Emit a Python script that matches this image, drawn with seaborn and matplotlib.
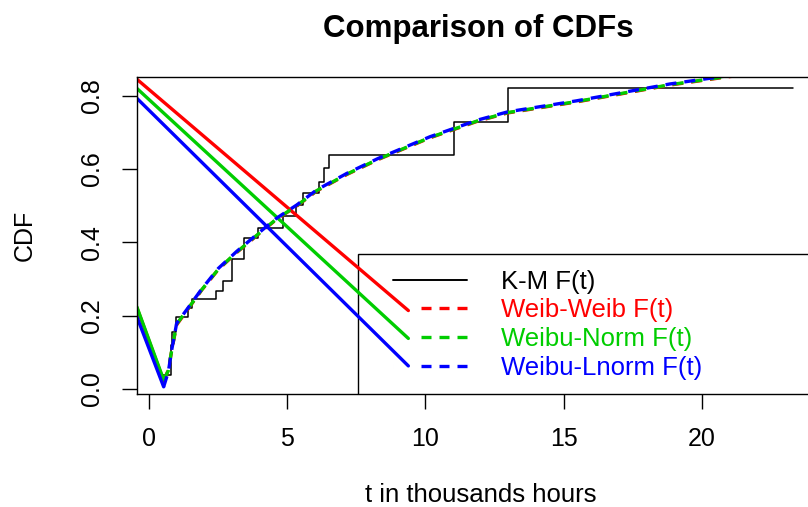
import numpy as np
import pandas as pd
import seaborn as sns
import matplotlib.pyplot as plt
from matplotlib.lines import Line2D
from matplotlib.patches import Rectangle

# --- data (t in thousands hours) ---
# Kaplan-Meier estimate: jump times and F(t) after each jump
km_t = [0.51, 0.77, 0.83, 0.96, 1.41, 1.54, 2.41, 2.66, 2.98, 3.44, 3.95,
        4.83, 5.31, 5.58, 6.16, 6.33, 6.52, 11.03, 12.98, 23.31]
km_F = [0.038, 0.120, 0.156, 0.197, 0.221, 0.245, 0.268, 0.295, 0.355, 0.411, 0.438,
        0.472, 0.502, 0.534, 0.565, 0.604, 0.638, 0.729, 0.820, 0.820]

# fitted CDFs (dashed), from the dip upwards
fit_t = [0.52, 0.69, 0.81, 0.99, 1.41, 1.90, 2.50, 3.16, 3.95, 4.61, 5.34,
         6.06, 7.15, 8.29, 10.16, 11.91, 12.98, 15.47, 18.85, 20.90, 23.90]
weib_weib = [0.022, 0.052, 0.104, 0.175, 0.219, 0.270, 0.326, 0.372, 0.422, 0.463, 0.499,
             0.540, 0.585, 0.626, 0.685, 0.731, 0.753, 0.783, 0.829, 0.851, 0.880]
weib_norm = [0.025, 0.050, 0.105, 0.177, 0.220, 0.271, 0.327, 0.373, 0.423, 0.464, 0.500,
             0.541, 0.586, 0.627, 0.686, 0.732, 0.754, 0.784, 0.830, 0.852, 0.881]
weib_lnorm = [0.006, 0.047, 0.106, 0.179, 0.222, 0.273, 0.329, 0.375, 0.425, 0.466, 0.502,
              0.543, 0.588, 0.629, 0.688, 0.734, 0.756, 0.786, 0.832, 0.854, 0.883]

# solid piece running into the dip
arm_t = [-0.45, 0.52]
arm_weib = [0.222, 0.022]
arm_norm = [0.224, 0.025]
arm_lnorm = [0.197, 0.006]

# solid straight lines from the top left down to the legend
diag_t = [-0.45, 9.38]
diag_weib = [0.845, 0.214]
diag_norm = [0.820, 0.138]
diag_lnorm = [0.793, 0.063]

labels = ['K-M F(t)', 'Weib-Weib F(t)', 'Weibu-Norm F(t)', 'Weibu-Lnorm F(t)']
colors = ['black', '#FF0000', '#00CD00', '#0000FF']

sns.set_theme(style='ticks')
plt.rcParams['font.family'] = ['Liberation Sans', 'DejaVu Sans']
plt.rcParams['text.color'] = 'black'
plt.rcParams['axes.labelcolor'] = 'black'
plt.rcParams['xtick.color'] = 'black'
plt.rcParams['ytick.color'] = 'black'

fig = plt.figure(figsize=(8.08, 5.07), dpi=100)
ax = fig.add_axes([137 / 808, 113 / 507, 671 / 808, 317 / 507])

km = pd.DataFrame({'t': km_t, 'F': km_F})
sns.lineplot(data=km, x='t', y='F', color='black', lw=1.1, drawstyle='steps-post',
             estimator=None, sort=False, ax=ax, legend=False)

dash = (0, (3.3, 2.4))
fits = [(arm_weib, weib_weib, diag_weib, colors[1]),
        (arm_norm, weib_norm, diag_norm, colors[2]),
        (arm_lnorm, weib_lnorm, diag_lnorm, colors[3])]
for arm, fit, diag, col in fits:
    sns.lineplot(x=arm_t, y=arm, color=col, lw=2.4, estimator=None, sort=False, ax=ax)
    sns.lineplot(x=fit_t, y=fit, color=col, lw=2.4, estimator=None, sort=False, ax=ax)
    ax.lines[-1].set_linestyle(dash)
    sns.lineplot(x=diag_t, y=diag, color=col, lw=2.4, estimator=None, sort=False, ax=ax)

ax.set_xlim(-0.445, 23.85)
ax.set_ylim(-0.0136, 0.851)
ax.set_xticks([0, 5, 10, 15, 20])
ax.set_yticks([0.0, 0.2, 0.4, 0.6, 0.8])
ax.set_yticklabels(['0.0', '0.2', '0.4', '0.6', '0.8'])
ax.tick_params(axis='both', labelsize=18, length=10.5, width=1.0, color='black')
ax.tick_params(axis='x', pad=13.5)
ax.tick_params(axis='y', pad=13, labelrotation=90)
for lab in ax.get_yticklabels():
    lab.set_va('center')
for s in ['left', 'top', 'bottom']:
    ax.spines[s].set_linewidth(1.0)
    ax.spines[s].set_color('black')
ax.spines['right'].set_visible(False)

ax.set_xlabel('t in thousands hours', fontsize=18.5)
ax.xaxis.set_label_coords(0.513, -0.28)
ax.set_ylabel('CDF', fontsize=18)
ax.yaxis.set_label_coords(-0.150, 0.5)

fig.text(478 / 808, 1 - 37 / 507, 'Comparison of CDFs', ha='center', va='baseline',
         fontsize=22.5, fontweight='bold')

# legend box (runs off the plot region, so it is clipped like in R)
ax.add_patch(Rectangle((7.556, -0.3), 40, 0.668, fill=False, edgecolor='black',
                       lw=1.0, clip_on=True))
# legend keys: the dashes only start some way into the key, as in the original
key_dash = (0, (0.001, 8.4, 3.0, 2.4, 3.0, 2.4, 3.0, 30))
handles = [Line2D([], [], color=colors[0], lw=1.4)]
handles += [Line2D([], [], color=c, lw=2.4, linestyle=key_dash) for c in colors[1:]]
ax.legend(handles, labels, loc='upper left', bbox_to_anchor=(8.83, 0.325),
          bbox_transform=ax.transData, frameon=False, fontsize=18.5,
          handlelength=2.88, handletextpad=1.32, labelspacing=0.18,
          borderpad=0, borderaxespad=0, labelcolor='linecolor')

fig.savefig('out.png', dpi=100)
